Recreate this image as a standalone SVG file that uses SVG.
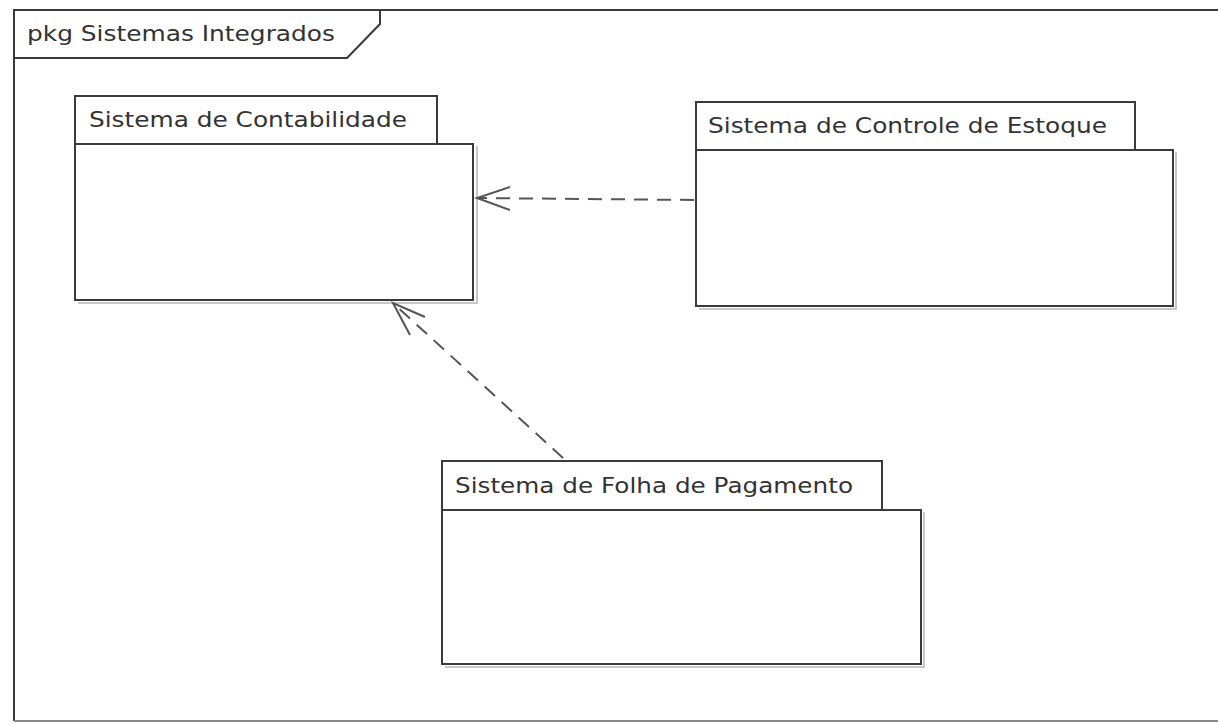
<svg xmlns="http://www.w3.org/2000/svg" width="1218" height="724" viewBox="0 0 1218 724">
<style>
.ln{fill:#fff;stroke:#3a3a3a;stroke-width:2}
.sh{fill:none;stroke:#c8c8c8;stroke-width:2}
.tx{font-family:"DejaVu Sans",Verdana,sans-serif;font-size:22px;fill:#333}
.dep{fill:none;stroke:#555;stroke-width:2;stroke-dasharray:14 9}
.hd{fill:none;stroke:#555;stroke-width:2}
</style>
<rect width="1218" height="724" fill="#fff"/>
<g id="frame">
<path d="M14,721 L14,10 L1218,10" fill="none" stroke="#3a3a3a" stroke-width="2"/>
<path d="M14,721 L1218,721" fill="none" stroke="#888" stroke-width="2"/>
<path d="M14,58 L347,58 L380,24 L380,10" fill="none" stroke="#3a3a3a" stroke-width="2"/>
<text class="tx" x="27" y="41" textLength="308" lengthAdjust="spacingAndGlyphs">pkg Sistemas Integrados</text>
</g>
<g id="pkg-contabilidade">
<path class="sh" d="M477,146 L477,303 L78,303"/>
<rect class="ln" x="75" y="96" width="362" height="48"/>
<rect class="ln" x="75" y="144" width="398" height="156"/>
<text class="tx" x="89" y="127" textLength="318" lengthAdjust="spacingAndGlyphs">Sistema de Contabilidade</text>
</g>
<g id="pkg-estoque">
<path class="sh" d="M1176,152 L1176,309 L699,309"/>
<rect class="ln" x="696" y="102" width="439" height="48"/>
<rect class="ln" x="696" y="150" width="477" height="156"/>
<text class="tx" x="708" y="133" textLength="399" lengthAdjust="spacingAndGlyphs">Sistema de Controle de Estoque</text>
</g>
<g id="pkg-folha">
<path class="sh" d="M924,512 L924,667 L445,667"/>
<rect class="ln" x="442" y="461" width="440" height="49"/>
<rect class="ln" x="442" y="510" width="479" height="154"/>
<text class="tx" x="455" y="493" textLength="398" lengthAdjust="spacingAndGlyphs">Sistema de Folha de Pagamento</text>
</g>
<g id="connectors">
<line class="dep" x1="694" y1="200" x2="478" y2="198"/>
<path class="hd" d="M510,187 L477,198 L510,210"/>
<line class="dep" x1="563" y1="458" x2="394" y2="304"/>
<path class="hd" d="M425,317 L393,303 L410,335"/>
</g>
</svg>
